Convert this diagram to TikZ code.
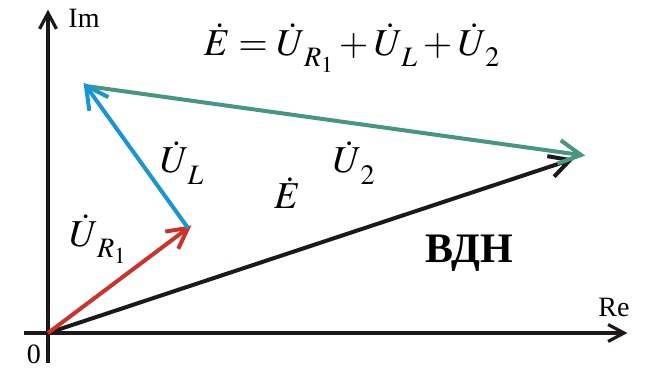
\documentclass[tikz,border=0pt]{standalone}
\usepackage{mathptmx}
\usepackage{fontspec}
\setmainfont{Liberation Serif}
\usetikzlibrary{calc}
\definecolor{vred}{RGB}{205,50,40}
\definecolor{vblue}{RGB}{25,150,210}
\definecolor{vteal}{RGB}{70,150,130}
\definecolor{vblack}{RGB}{30,25,25}
\newcommand\dsub[1]{_{\,\lower6pt\hbox{$\scriptstyle #1$}}}
% arrow: #1 style, #2 start, #3 tip, #4 arm length, #5 half angle
\newcommand\vecarrow[5]{%
  \draw[#1] (#2) -- (#3);
  \draw[#1, line join=miter, miter limit=10] ($(#3)!#4!#5:(#2)$) -- (#3) -- ($(#3)!#4!-#5:(#2)$);
}
\tikzset{
  axisline/.style={line width=3.2pt, draw=vblack},
  vecline/.style={line width=4pt},
  lab/.style={inner sep=0pt, font=\fontsize{28}{32}\selectfont},
  mlab/.style={inner sep=0pt, font=\fontsize{38}{44}\selectfont}
}
\begin{document}
\begin{tikzpicture}[x=1pt,y=-1pt]
\useasboundingbox (0,0) rectangle (656,373);
\coordinate (O) at (48,333);
\coordinate (xs) at (24,333);
\coordinate (xe) at (624,333);
\coordinate (ys) at (48,363);
\coordinate (ye) at (48,13);
\coordinate (A) at (188,228);
\coordinate (B) at (86,86);
\coordinate (C) at (581,155);
\coordinate (D) at (570,160);
\vecarrow{axisline}{xs}{xe}{18pt}{28}
\vecarrow{axisline}{ys}{ye}{18pt}{28}
\vecarrow{vecline, draw=vblack}{O}{D}{23pt}{28}
\vecarrow{vecline, draw=vred}{O}{A}{23pt}{28}
\vecarrow{vecline, draw=vteal}{B}{C}{25pt}{28}
\vecarrow{vecline, draw=vblue}{A}{B}{25pt}{28}
\node[lab] (im) at (84,18) {Im};
\node[lab] (re) at (614,307) {Re};
\node[lab] (zero) at (34,354) {0};
\node[mlab] (eq) at (352,48) {$\dot E=\dot U\dsub{R_1}+\dot U\dsub{L}+\dot U\dsub{2}$};
\node[mlab] (ul) at (182,163) {$\dot U\dsub{L}$};
\node[mlab] (ur) at (98,239) {$\dot U\dsub{R_1}$};
\node[mlab] (u2) at (354,163) {$\dot U\dsub{2}$};
\node[mlab] (e) at (287,193) {$\dot E$};
\node[inner sep=0pt, font=\fontsize{42}{48}\selectfont\bfseries] (vdn) at (469,253) {ВДН};
\end{tikzpicture}
\end{document}
